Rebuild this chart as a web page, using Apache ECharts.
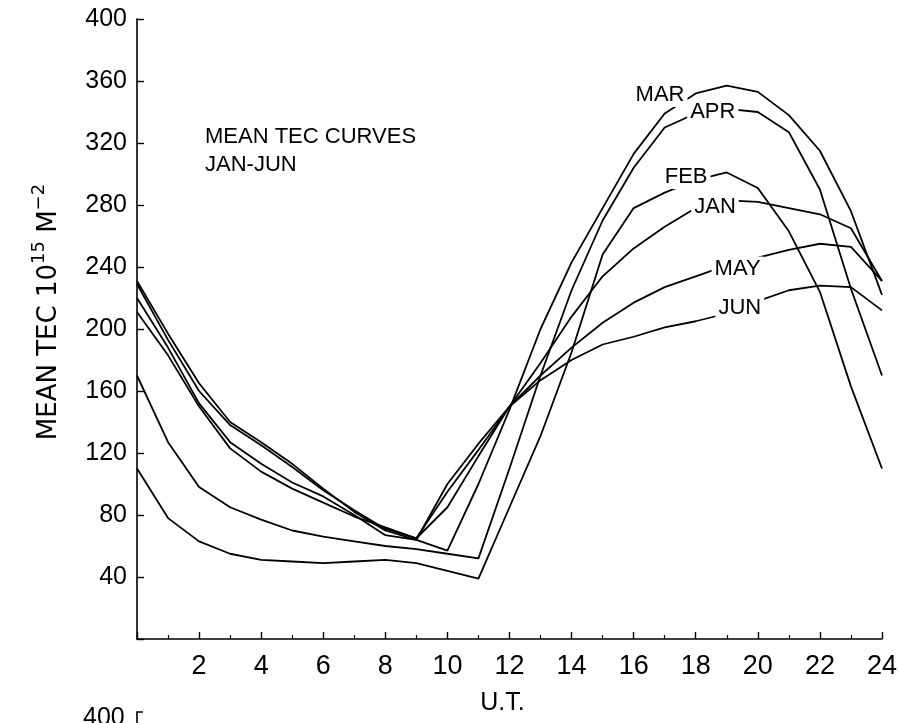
<!DOCTYPE html>
<html>
<head>
<meta charset="utf-8">
<script src="https://cdn.jsdelivr.net/npm/echarts@6/dist/echarts.min.js"></script>
<style>
html,body{margin:0;padding:0;background:#fff;}
#chart{width:900px;height:723px;}
</style>
</head>
<body>
<div id="chart"></div>
<script>
var hours = [0,1,2,3,4,5,6,7,8,9,10,11,12,13,14,15,16,17,18,19,20,21,22,23,24];
var JAN = [231,197,165,140,127,113,97,82,70,64,100,126,150,178,208,234,252,266,278,283,282,278,274,265,231];
var FEB = [110,78,63,55,51,50,49,50,51,49,44,39,85,131,185,248,278,288,296,301,291,263,224,163,110];
var MAR = [220,188,152,127,113,101,92,80,67,64,57,100,148,200,243,278,313,339,352,357,353,338,315,276,222];
var APR = [170,127,98,85,77,70,66,63,60,58,55,52,110,170,225,270,304,330,339,342,340,327,290,226,170];
var MAY = [229,193,160,138,125,111,96,83,71,65,95,122,150,170,188,204,217,227,234,241,246,251,255,253,231];
var JUN = [211,183,150,123,108,97,88,79,72,65,85,118,150,167,180,190,195,201,205,210,218,225,228,227,212];
var monthNames = ['JAN','FEB','MAR','APR','MAY','JUN'];
var monthData = [JAN, FEB, MAR, APR, MAY, JUN];
var labelX = [18.62, 17.69, 16.85, 18.55, 19.35, 19.42];
var labelY = [279, 298, 351, 340, 239, 213.5];
var yTicks = [40,80,120,160,200,240,280,320,360,400];
var xTicks = [2,4,6,8,10,12,14,16,18,20,22,24];

var chart = echarts.init(document.getElementById('chart'), null, {renderer:'canvas'});
var mainFont = '"Liberation Sans", Arial, sans-serif';
var wideFont = '"DejaVu Sans", "Liberation Sans", sans-serif';

var series = monthData.map(function(arr, i){
  return {
    type:'line', name: monthNames[i], symbol:'none', smooth:false,
    data: hours.map(function(h, k){ return [h, arr[k]]; }),
    lineStyle:{color:'#000', width:1.8}, z:2, silent:true
  };
});
series.push({
  type:'scatter', symbolSize:0, z:10, silent:true,
  data: monthNames.map(function(n,i){ return [labelX[i], labelY[i], n]; }),
  label:{show:true, position:'inside', formatter:function(p){return p.data[2];},
    color:'#000', opacity:1, textBorderWidth:0, fontSize:22, fontFamily:mainFont,
    backgroundColor:'#fff', padding:[1,3]}
});

chart.setOption({
  animation:false,
  backgroundColor:'#fff',
  title:{text:'MEAN TEC CURVES\nJAN-JUN', left:200, top:118,
    textStyle:{fontSize:22, fontWeight:'normal', color:'#000', fontFamily:mainFont, lineHeight:28}},
  grid:{left:137, right:15, top:19, bottom:84, containLabel:false},
  xAxis:{type:'value', min:0, max:24, interval:2,
    name:'U.T.', nameLocation:'middle', nameGap:52,
    nameTextStyle:{fontSize:25, color:'#000', fontFamily:mainFont, padding:[0,14,0,0]},
    axisLine:{lineStyle:{color:'#000', width:1.6}},
    axisTick:{inside:true, length:7, lineStyle:{color:'#000', width:1.4}},
    minorTick:{show:true, splitNumber:2, length:4, lineStyle:{color:'#000', width:1.2}},
    splitLine:{show:false},
    axisLabel:{margin:14, fontSize:27, color:'#000', fontFamily:mainFont,
      formatter:function(v){ return xTicks.indexOf(v) >= 0 ? String(v) : ''; }}
  },
  yAxis:{type:'value', min:0, max:400, interval:40,
    name:'{a|MEAN TEC 10}{s|15}{a| M}{s|−2}', nameLocation:'middle', nameRotate:90, nameGap:75,
    nameTextStyle:{color:'#000', padding:[0,0,0,34], rich:{
      a:{fontSize:26, fontFamily:wideFont, color:'#000', verticalAlign:'bottom', lineHeight:32},
      s:{fontSize:18, fontFamily:wideFont, color:'#000', verticalAlign:'top', lineHeight:32}
    }},
    axisLine:{lineStyle:{color:'#000', width:1.6}},
    axisTick:{inside:true, length:7, lineStyle:{color:'#000', width:1.4}},
    splitLine:{show:false},
    axisLabel:{margin:10, fontSize:25, color:'#000', fontFamily:mainFont,
      formatter:function(v){ return yTicks.indexOf(v) >= 0 ? String(v) : ''; }}
  },
  graphic:[
    {type:'text', left:83, top:706, style:{text:'400', fontSize:25, fontFamily:mainFont, fill:'#000'}},
    {type:'polyline', shape:{points:[[137,723],[137,712],[143,712]]}, style:{stroke:'#000', lineWidth:1.6, fill:null}}
  ],
  series: series
});
</script>
</body>
</html>
